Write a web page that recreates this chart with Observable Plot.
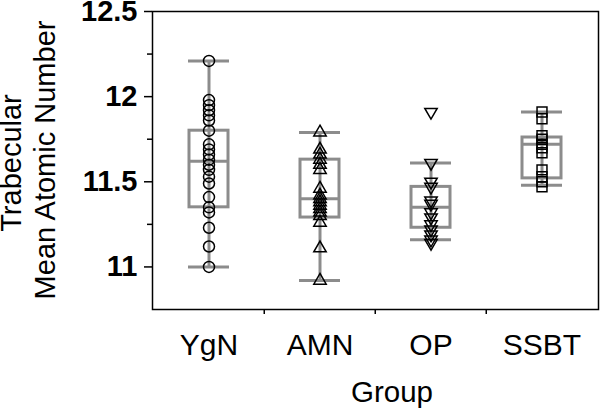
<!DOCTYPE html>
<html>
<head>
<meta charset="utf-8">
<script src="https://cdn.jsdelivr.net/npm/d3@7"></script>
<script src="https://cdn.jsdelivr.net/npm/@observablehq/plot@0.6"></script>
<style>
  html, body { margin: 0; padding: 0; background: white; }
  g[aria-label="y-axis tick label"] { font-weight: bold; font-size: 29px; }
  g[aria-label="x-axis tick label"] { font-size: 30px; }
</style>
</head>
<body>
<div id="chart"></div>
<script>
// Categories
const groups = ["YgN", "AMN", "OP", "SSBT"];

// Individual points per group
const ygnValues  = [12.21, 11.98, 11.95, 11.92, 11.89, 11.86, 11.80, 11.72, 11.69, 11.66, 11.63, 11.60, 11.57, 11.53, 11.49, 11.41, 11.35, 11.32, 11.23, 11.12, 11.00];
const amnValues  = [11.79, 11.69, 11.66, 11.63, 11.60, 11.57, 11.46, 11.42, 11.40, 11.38, 11.36, 11.34, 11.32, 11.30, 11.26, 11.11, 10.92];
const opValues   = [11.91, 11.61, 11.50, 11.47, 11.39, 11.37, 11.32, 11.29, 11.25, 11.22, 11.19, 11.16, 11.14];
const ssbtValues = [11.91, 11.87, 11.77, 11.75, 11.72, 11.70, 11.67, 11.57, 11.53, 11.50, 11.47];

// Box statistics per group
const whiskerLow  = [11.00, 10.92, 11.16, 11.48];
const quartile1   = [11.35, 11.29, 11.23, 11.52];
const medians     = [11.62, 11.40, 11.35, 11.72];
const quartile3   = [11.80, 11.63, 11.47, 11.76];
const whiskerHigh = [12.21, 11.79, 11.61, 11.91];

// Axis ticks
const yMajorTicks = [11, 11.5, 12, 12.5];
const yMinorTicks = [11.25, 11.75, 12.25];

const boxes = groups.map((g, i) => ({
  group: g, lo: whiskerLow[i], q1: quartile1[i], med: medians[i], q3: quartile3[i], hi: whiskerHigh[i]
}));
const pts = (g, vals) => vals.map(v => ({group: g, value: v}));

const gray = "#8c8c8c";
const bandW = (600 - 152 - 2) / groups.length;

const svg = Plot.plot({
  width: 600,
  height: 408,
  marginLeft: 152,
  marginRight: 2,
  marginTop: 11,
  marginBottom: 99,
  style: {fontFamily: "'Liberation Sans', Arial, sans-serif", fontSize: "29px", color: "black", background: "white"},
  x: {type: "band", domain: groups, padding: 0, axis: null},
  y: {domain: [10.75, 12.5], axis: null},
  marks: [
    Plot.ruleX(boxes, {x: "group", y1: "lo", y2: "hi", stroke: gray, strokeWidth: 3}),
    Plot.barY(boxes, {x: "group", y1: "q1", y2: "q3", fill: "none", stroke: gray, strokeWidth: 3, insetLeft: 36, insetRight: 36}),
    Plot.tickY(boxes, {x: "group", y: "med", stroke: gray, strokeWidth: 3, insetLeft: 36, insetRight: 36}),
    Plot.tickY(boxes, {x: "group", y: "lo", stroke: gray, strokeWidth: 3, insetLeft: 35, insetRight: 35}),
    Plot.tickY(boxes, {x: "group", y: "hi", stroke: gray, strokeWidth: 3, insetLeft: 35, insetRight: 35}),
    Plot.dot(pts("YgN", ygnValues), {x: "group", y: "value", symbol: "circle", r: 5.5, stroke: "black", strokeWidth: 1.5, fill: "none"}),
    Plot.dot(pts("AMN", amnValues), {x: "group", y: "value", symbol: "triangle", r: 4.6, stroke: "black", strokeWidth: 1.5, fill: "none"}),
    Plot.dot(pts("OP", opValues), {x: "group", y: "value", symbol: "triangle", rotate: 180, r: 4.6, stroke: "black", strokeWidth: 1.5, fill: "none"}),
    Plot.dot(pts("SSBT", ssbtValues), {x: "group", y: "value", symbol: "square", r: 5.6, stroke: "black", strokeWidth: 1.5, fill: "none"}),
    Plot.frame({stroke: "black", strokeWidth: 1.5}),
    Plot.axisY({ticks: yMajorTicks, tickSize: 8, tickPadding: 7, tickFormat: d => String(d), label: null, stroke: "black", strokeWidth: 1.5}),
    Plot.axisY({ticks: yMinorTicks, tickSize: 5, tickFormat: () => "", label: null, stroke: "black", strokeWidth: 1.5}),
    Plot.axisX({tickSize: 0, tickPadding: 24, label: null}),
    Plot.ruleX(groups.slice(1), {x: d => d, dx: -bandW / 2, insetTop: 298, insetBottom: -5, stroke: "black", strokeWidth: 1.5})
  ]
});

const s = d3.select(svg);
const labelStyle = sel => sel.attr("font-family", "'Liberation Sans', Arial, sans-serif").attr("font-size", 29).attr("fill", "black").attr("text-anchor", "middle");
s.append("text").call(labelStyle).attr("transform", "translate(21,163) rotate(-90)").text("Trabecular");
s.append("text").call(labelStyle).attr("transform", "translate(55,160) rotate(-90)").text("Mean Atomic Number");
s.append("text").call(labelStyle).attr("font-size", 29.5).attr("x", 392).attr("y", 402).text("Group");

document.getElementById("chart").appendChild(svg);
</script>
</body>
</html>
